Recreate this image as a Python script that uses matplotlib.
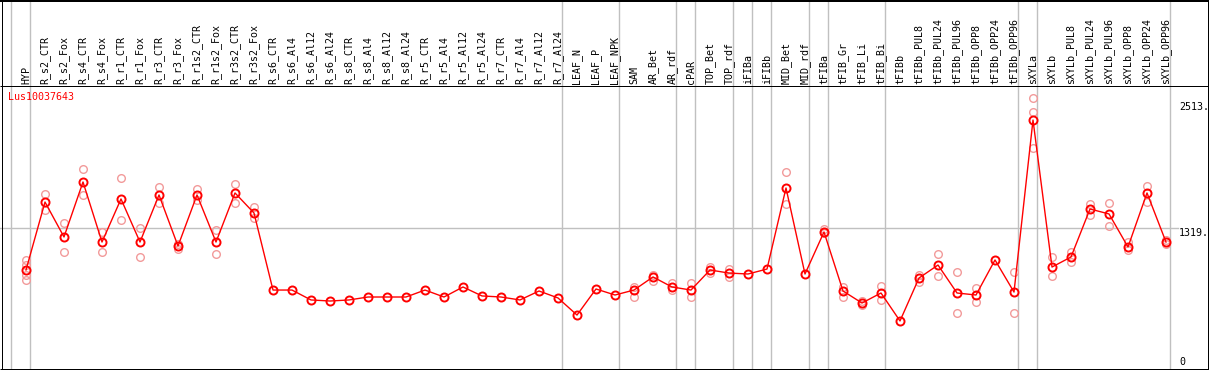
import matplotlib
matplotlib.use('Agg')
import matplotlib.pyplot as plt
from matplotlib.lines import Line2D
import matplotlib.transforms as mtransforms

# ---------------- data ----------------
categories = [
    "HYP", "R_s2_CTR", "R_s2_Fox", "R_s4_CTR", "R_s4_Fox", "R_r1_CTR", "R_r1_Fox",
    "R_r3_CTR", "R_r3_Fox", "R_r1s2_CTR", "R_r1s2_Fox", "R_r3s2_CTR", "R_r3s2_Fox",
    "R_s6_CTR", "R_s6_Al4", "R_s6_Al12", "R_s6_Al24", "R_s8_CTR", "R_s8_Al4",
    "R_s8_Al12", "R_s8_Al24", "R_r5_CTR", "R_r5_Al4", "R_r5_Al12", "R_r5_Al24",
    "R_r7_CTR", "R_r7_Al4", "R_r7_Al12", "R_r7_Al24", "LEAF_N", "LEAF_P", "LEAF_NPK",
    "SAM", "AR_Bet", "AR_rdf", "cPAR", "TOP_Bet", "TOP_rdf", "iFIBa", "iFIBb",
    "MID_Bet", "MID_rdf", "tFIBa", "tFIB_Gr", "tFIB_Li", "tFIB_Bi", "tFIBb",
    "tFIBb_PUL8", "tFIBb_PUL24", "tFIBb_PUL96", "tFIBb_OPP8", "tFIBb_OPP24",
    "tFIBb_OPP96", "sXYLa", "sXYLb", "sXYLb_PUL8", "sXYLb_PUL24", "sXYLb_PUL96",
    "sXYLb_OPP8", "sXYLb_OPP24", "sXYLb_OPP96",
]

mean_values = [
    924, 1568, 1237, 1758, 1189, 1597, 1189, 1635, 1151, 1635, 1189, 1654, 1464,
    734, 734, 640, 630, 640, 668, 668, 668, 734, 668, 763, 678, 668, 640, 725, 659,
    497, 744, 687,
    734, 858, 763, 734, 924, 895, 886, 933, 1701, 886, 1284, 725, 611, 706, 441,
    848, 971, 706, 687, 1019, 715, 2345, 952, 1047, 1502, 1455, 1142, 1654, 1189,
]

replicates = [
    [1019, 971, 877, 829], [1644, 1492], [1369, 1094], [1881, 1635], [1284, 1094],
    [1796, 1398], [1322, 1047], [1710, 1559], [1170, 1123], [1691, 1587],
    [1303, 1076], [1739, 1559], [1521, 1417],
    [], [], [], [], [], [], [], [], [], [], [], [], [], [], [], [],
    [], [], [],
    [763, 668], [877, 820], [801, 734], [801, 668], [952, 895], [933, 858],
    [], [], [1853, 1549], [], [1312, 1275], [763, 668], [630, 592], [772, 640],
    [], [877, 810], [1076, 867], [905, 516], [753, 621], [], [905, 516],
    [2554, 2421, 2084], [1047, 867], [1094, 1000], [1549, 1445], [1559, 1341],
    [1189, 1113], [1720, 1568], [1208, 1170],
]

group_sizes = [1, 28, 3, 3, 1, 2, 1, 1, 2, 1, 3, 7, 1, 7]
gene_id = "Lus10037643"
ref_values = [2513, 1319, 0]
ref_labels = ["2513.", "1319.", "0"]

# ---------------- layout ----------------
W, H = 1209, 370
fig = plt.figure(figsize=(W / 100, H / 100), dpi=100)
ax = fig.add_axes([0, 0, 1, 1])
ax.set_axis_off()

x0_px, step_px = 26, 19          # pixel position of first category, spacing
zero_px = 367.5                  # pixel row (from top) of value 0
px_per_unit = 126 / 1194         # vertical scale
ax.set_xlim(-x0_px / step_px, (W - x0_px) / step_px)
ax.set_ylim(-(H - zero_px) / px_per_unit, zero_px / px_per_unit)

grey = '#c0c0c0'
red = '#ff0000'
rep_color = '#f29a9a'
mono = 'DejaVu Sans Mono'
fs = 7.2

# group separators
bounds = [-1]
s = -1
for g in group_sizes:
    s += g
    bounds.append(s)
for b in bounds:
    ax.axvline(b + 4 / step_px, color=grey, lw=1.0, zorder=1)

# reference line at 1319
ax.axhline(ref_values[1], xmin=0, xmax=1178 / W, color=grey, lw=1.0, zorder=1)

# replicate points
for i, reps in enumerate(replicates):
    if reps:
        ax.plot([i] * len(reps), reps, linestyle='none', marker='o', ms=5.5,
                mfc='none', mec=rep_color, mew=1.0, zorder=2)

# mean line
xs = list(range(len(categories)))
ax.plot(xs, mean_values, color=red, lw=1.0, marker='o', ms=5.8, mfc='none',
        mec=red, mew=1.4, zorder=3)

# header labels
hdr_tr = mtransforms.blended_transform_factory(ax.transData, ax.transAxes)
for i, c in enumerate(categories):
    ax.text(i, 1 - 83.5 / H, c, rotation=90, ha='center', va='bottom',
            fontsize=fs, family=mono, transform=hdr_tr, color='black')

# gene id
ax.text(8 / W, 1 - 97.5 / H, gene_id, transform=ax.transAxes, color=red,
        fontsize=fs, family=mono, ha='left', va='center')

# right value labels
lab_tr = mtransforms.blended_transform_factory(ax.transAxes, ax.transData)
for v, t in zip(ref_values, ref_labels):
    dy = -4.5 if v > 0 else 5.8
    tr = mtransforms.offset_copy(lab_tr, fig=fig, x=0, y=dy, units='dots')
    ax.text(1179 / W, v, t, transform=tr, fontsize=fs, family=mono,
            ha='left', va='center', color='black')

# frame lines
def fline(x1, y1, x2, y2, lw=1.0, color='black'):
    fig.add_artist(Line2D([x1 / W, x2 / W], [1 - y1 / H, 1 - y2 / H],
                          transform=fig.transFigure, color=color, lw=lw * 0.72,
                          solid_capstyle='butt'))

fline(0, 1, W, 1, lw=2)           # top
fline(1.5, 0, 1.5, 369.5)         # left
fline(1208, 0, 1208, 369.5)       # right
fline(0, 369, 1208.5, 369)        # bottom
fline(0, 85.5, W, 85.5)           # header separator

fig.savefig('out.png', dpi=100)
